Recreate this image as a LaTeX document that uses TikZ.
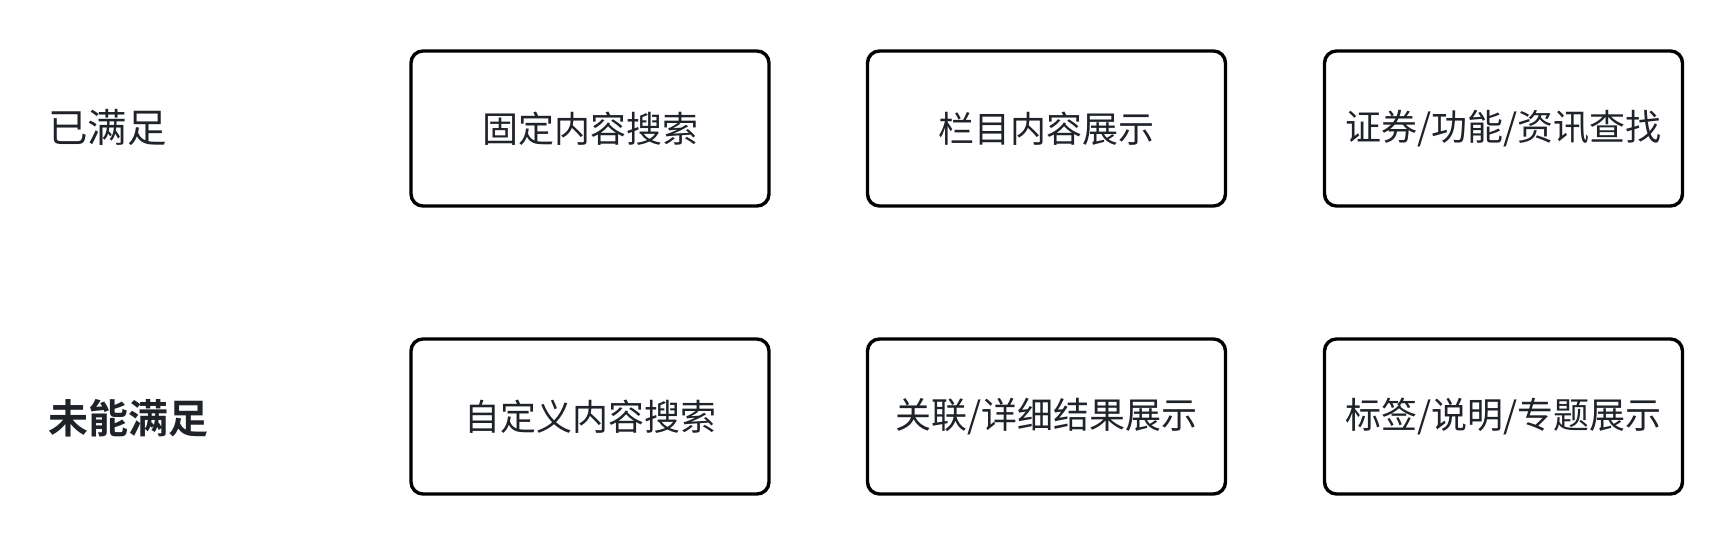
\documentclass[tikz,border=0pt]{standalone}
\usepackage{fontspec}
\newfontfamily\cjk{Noto Sans CJK SC}
\newfontfamily\cjkb{Noto Sans CJK SC Bold}
\definecolor{txt}{HTML}{1F2329}
\begin{document}
\begin{tikzpicture}[x=1pt,y=-1pt,
  card/.style={draw=black, line width=3.4pt, rounded corners=12pt, minimum width=358pt, minimum height=155pt, inner sep=0pt, font=\cjk\fontsize{36}{40}\selectfont, text=txt},
  rowlabel/.style={anchor=west, inner sep=0pt, text=txt}]
\useasboundingbox (0,0) rectangle (1734,546);
\fill[white] (0,0) rectangle (1734,546);
\node[rowlabel, font=\cjk\fontsize{39.5}{44}\selectfont] (l1) at (48,127) {已满足};
\node[rowlabel, font=\cjkb\fontsize{40}{44}\selectfont] (l2) at (48,418) {未能满足};
\node[card] (a1) at (590,128.5) {固定内容搜索};
\node[card] (a2) at (1046.5,128.5) {栏目内容展示};
\node[card] (a3) at (1503.5,128.5) {证券/功能/资讯查找};
\node[card] (b1) at (590,416.5) {自定义内容搜索};
\node[card] (b2) at (1046.5,416.5) {关联/详细结果展示};
\node[card] (b3) at (1503.5,416.5) {标签/说明/专题展示};
\end{tikzpicture}
\end{document}
